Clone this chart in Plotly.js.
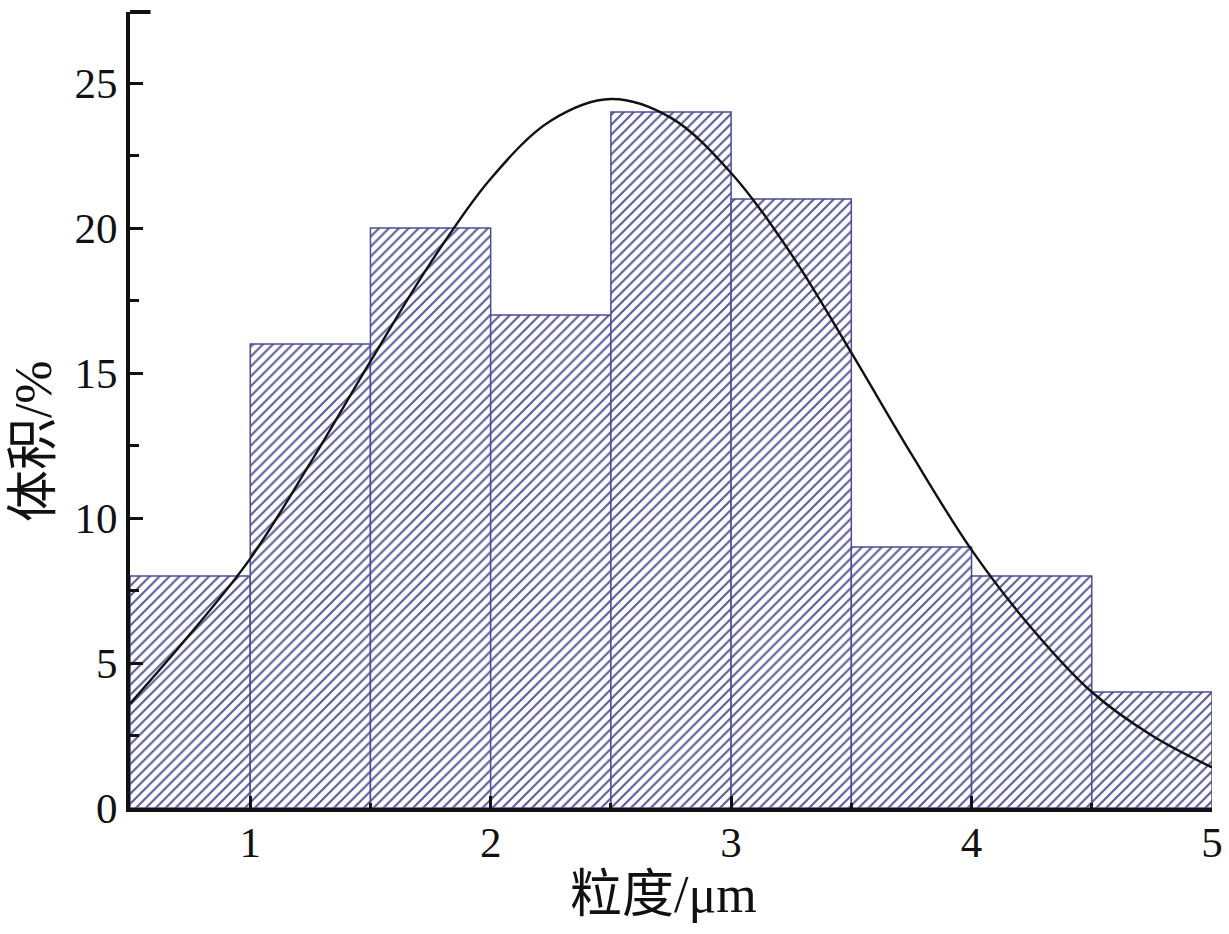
<!DOCTYPE html>
<html>
<head>
<meta charset="utf-8">
<script src="https://cdn.plot.ly/plotly-3.0.1.min.js"></script>
<style>html,body{margin:0;padding:0;background:#fff;}#chart{width:1229px;height:934px;}</style>
</head>
<body>
<div id="chart"></div>
<script>
// Histogram bins (bin centres, µm) and volume percentages
const binCenters = [0.75, 1.25, 1.75, 2.25, 2.75, 3.25, 3.75, 4.25, 4.75];
const binWidth = [0.5, 0.5, 0.5, 0.5, 0.5, 0.5, 0.5, 0.5, 0.5];
const volumePct = [8, 16, 20, 17, 24, 21, 9, 8, 4];

// Fitted distribution curve
const curveX = [0.5, 0.75, 1.0, 1.25, 1.5, 1.75, 2.0, 2.25, 2.5, 2.75, 3.0, 3.25, 3.5, 3.75, 4.0, 4.25, 4.5, 4.75, 5.0];
const curveY = [3.6, 6.0, 8.6, 11.9, 15.4, 18.8, 21.7, 23.7, 24.45, 23.8, 21.9, 19.1, 15.7, 12.2, 8.9, 6.2, 4.0, 2.5, 1.4];

const xTicks = [1, 2, 3, 4, 5];
const yTicks = [0, 5, 10, 15, 20, 25];
const xTitle = '粒度/μm';
const yTitle = '体积/%';

const serif = "'Liberation Serif', 'Times New Roman', 'Noto Sans CJK SC', serif";

const traces = [
  {
    type: 'bar',
    x: binCenters,
    y: volumePct,
    width: binWidth,
    marker: {
      color: '#ffffff',
      line: {color: '#4c4c98', width: 1.5},
      pattern: {shape: '/', fgcolor: '#5c5c98', bgcolor: '#ffffff', size: 7, solidity: 0.3}
    },
    hoverinfo: 'x+y'
  },
  {
    type: 'scatter',
    mode: 'lines',
    x: curveX,
    y: curveY,
    line: {color: '#111111', width: 2.4, shape: 'spline', smoothing: 1.0}
  }
];

const layout = {
  width: 1229,
  height: 934,
  margin: {l: 130, r: 17, t: 12, b: 126},
  paper_bgcolor: '#ffffff',
  plot_bgcolor: '#ffffff',
  showlegend: false,
  bargap: 0,
  font: {family: serif, color: '#111111'},
  xaxis: {
    range: [0.5, 5.0],
    tickvals: xTicks,
    ticktext: xTicks.map(String),
    ticks: 'inside',
    ticklen: 12,
    tickwidth: 3,
    tickcolor: '#111111',
    minor: {dtick: 0.5, tick0: 0.5, ticks: 'inside', ticklen: 5, tickwidth: 3, tickcolor: '#111111', showgrid: false},
    showline: true,
    linecolor: '#111111',
    linewidth: 4,
    showgrid: false,
    zeroline: false,
    tickfont: {family: serif, size: 43, color: '#111111'},
    ticklabelstandoff: -7
  },
  yaxis: {
    range: [0, 27.45],
    tickvals: yTicks,
    ticktext: yTicks.map(String),
    ticks: 'inside',
    ticklen: 13,
    tickwidth: 3,
    tickcolor: '#111111',
    minor: {dtick: 2.5, tick0: 0, ticks: 'inside', ticklen: 9, tickwidth: 3, tickcolor: '#111111', showgrid: false},
    showline: true,
    linecolor: '#111111',
    linewidth: 4,
    showgrid: false,
    zeroline: false,
    tickfont: {family: serif, size: 43, color: '#111111'},
    ticklabelstandoff: 0
  },
  annotations: [
    {text: xTitle, xref: 'paper', yref: 'paper', x: 0.4935, y: -0.109, xanchor: 'center', yanchor: 'middle',
     showarrow: false, font: {family: serif, size: 52, color: '#111111'}},
    {text: yTitle, xref: 'paper', yref: 'paper', x: -0.0896, y: 0.461, xanchor: 'center', yanchor: 'middle',
     textangle: -90, showarrow: false, font: {family: serif, size: 52, color: '#111111'}}
  ],
  shapes: [
    {type: 'line', xref: 'paper', yref: 'paper', x0: 0, x1: 0.019, y0: 1, y1: 1, line: {color: '#111111', width: 4}}
  ]
};

Plotly.newPlot('chart', traces, layout, {displayModeBar: false, staticPlot: true});
</script>
</body>
</html>
